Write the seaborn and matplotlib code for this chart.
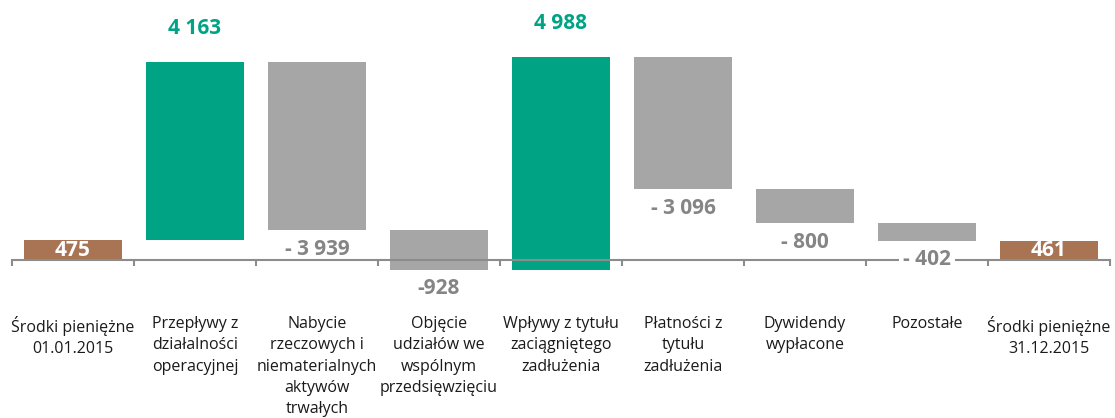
import numpy as np
import pandas as pd
import matplotlib
matplotlib.use('Agg')
import matplotlib.pyplot as plt
import seaborn as sns

# chart data
categories = [
    'Środki pieniężne\n01.01.2015',
    'Przepływy z\ndziałalności\noperacyjnej',
    'Nabycie\nrzeczowych i\nniematerialnych\naktywów\ntrwałych',
    'Objęcie\nudziałów we\nwspólnym\nprzedsięwzięciu',
    'Wpływy z tytułu\nzaciągniętego\nzadłużenia',
    'Płatności z\ntytułu\nzadłużenia',
    'Dywidendy\nwypłacone',
    'Pozostałe',
    'Środki pieniężne\n31.12.2015',
]
values = [475, 4163, -3939, -928, 4988, -3096, -800, -402, 461]
kinds = ['total', 'change', 'change', 'change', 'change', 'change', 'change', 'change', 'total']
value_labels = ['475', '4 163', '- 3 939', '-928', '4 988', '- 3 096', '- 800', '- 402', '461']

GREEN = '#00a383'
GREY = '#a6a6a6'
BROWN = '#a87453'
TXT_GREY = '#858585'
AXIS = '#8c8c8c'

# waterfall: floating bars start where the previous one ended
bottoms, heights = [], []
running = 0
for v, k in zip(values, kinds):
    if k == 'total':
        bottoms.append(0)
        heights.append(v)
        running = v
    else:
        bottoms.append(min(running, running + v))
        heights.append(abs(v))
        running += v

df = pd.DataFrame({'cat': categories, 'height': heights, 'bottom': bottoms,
                   'value': values, 'kind': kinds})

sns.set_style('white')
plt.rcParams['font.family'] = ['Open Sans', 'DejaVu Sans']

fig = plt.figure(figsize=(11.15, 4.18), dpi=100)
ax = fig.add_axes([12 / 1115, 0, 1098 / 1115, 1])

sns.barplot(data=df, x='cat', y='height', bottom=df['bottom'].values,
            width=0.8, color=GREY, ax=ax, errorbar=None)

for patch, v, k in zip(ax.patches, values, kinds):
    if k == 'total':
        patch.set_facecolor(BROWN)
    elif v > 0:
        patch.set_facecolor(GREEN)
    else:
        patch.set_facecolor(GREY)
    patch.set_edgecolor('none')

ax.set_xlim(-0.5, len(categories) - 0.5)
ax.set_ylim(-3694, 6097)

# value labels
for i, (b, h, v, k, t) in enumerate(zip(bottoms, heights, values, kinds, value_labels)):
    if k == 'total':
        ax.text(i, b + h / 2, t, ha='center', va='center', color='white',
                fontsize=15, fontweight='bold')
    elif v > 0:
        ax.annotate(t, (i, b + h), xytext=(0, 24), textcoords='offset points',
                    ha='center', va='center', color=GREEN, fontsize=15, fontweight='bold')
    else:
        # label sitting on the zero line gets a white backing
        near_axis = 0 < b < 600
        ax.annotate(t, (i, b), xytext=(0, -13.5), textcoords='offset points',
                    ha='center', va='center', color=TXT_GREY, fontsize=15, fontweight='bold',
                    bbox=dict(facecolor='white', edgecolor='none', pad=3) if near_axis else None)

# axis at zero with boundary tick marks
for s in ['top', 'right', 'left']:
    ax.spines[s].set_visible(False)
ax.spines['bottom'].set_position(('data', 0))
ax.spines['bottom'].set_color(AXIS)
ax.spines['bottom'].set_linewidth(1.5)
ax.set_yticks([])
ax.set_xlabel('')
ax.set_ylabel('')
ax.set_xticks(range(len(categories)))
ax.set_xticklabels(categories, fontsize=11.5, color='#1a1a1a')
ax.set_xticks(np.arange(-0.5, len(categories)), minor=True)
ax.tick_params(axis='x', which='both', bottom=True)
ax.tick_params(axis='x', which='major', length=0, pad=40)
ax.tick_params(axis='x', which='minor', length=4.5, width=1.5, color=AXIS, direction='out')
for lbl in ax.get_xticklabels():
    lbl.set_linespacing(1.45)

fig.savefig('out.png', dpi=100)
